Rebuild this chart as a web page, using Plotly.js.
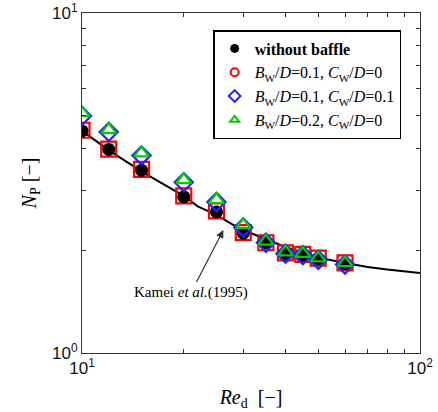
<!DOCTYPE html>
<html>
<head>
<meta charset="utf-8">
<script src="https://cdn.plot.ly/plotly-3.0.1.min.js"></script>
<style>html,body{margin:0;padding:0;background:#fff;}#chart{width:438px;height:412px;}</style>
</head>
<body>
<div id="chart"></div>
<script>
// Reynolds numbers of the measurements
const reExp = [10, 12, 15, 20, 25, 30, 35, 40, 45, 50, 60];
// Power number, without baffle
const npNoBaffle = [4.50, 3.97, 3.45, 2.88, 2.60, 2.25, 2.11, 1.96, 1.94, 1.89, 1.83];
// Bw/D=0.1, Cw/D=0
const npB01C0 = [4.52, 3.98, 3.47, 2.90, 2.62, 2.26, 2.11, 1.97, 1.95, 1.90, 1.84];
// Bw/D=0.1, Cw/D=0.1
const npB01C01 = [4.98, 4.47, 3.81, 3.18, 2.78, 2.34, 2.11, 1.96, 1.94, 1.88, 1.82];
// Bw/D=0.2, Cw/D=0
const npB02C0 = [5.08, 4.53, 3.87, 3.23, 2.82, 2.38, 2.13, 1.98, 1.96, 1.90, 1.84];
// Kamei et al. (1995) correlation curve
const reKamei = [10, 11, 12, 13, 15, 17, 20, 22, 25, 28, 30, 35, 40, 45, 50, 60, 70, 80, 90, 100];
const npKamei = [4.50, 4.20, 3.95, 3.75, 3.42, 3.18, 2.90, 2.70, 2.55, 2.38, 2.30, 2.16, 2.05, 1.97, 1.91, 1.84, 1.79, 1.76, 1.74, 1.72];

const names = [
  '<b>without baffle</b>',
  '<i>B</i><sub>W</sub>/<i>D</i>=0.1, <i>C</i><sub>W</sub>/<i>D</i>=0',
  '<i>B</i><sub>W</sub>/<i>D</i>=0.1, <i>C</i><sub>W</sub>/<i>D</i>=0.1',
  '<i>B</i><sub>W</sub>/<i>D</i>=0.2, <i>C</i><sub>W</sub>/<i>D</i>=0'
];

const SERIF = 'Liberation Serif';
const SANS = 'Liberation Sans';

const traces = [
  {x: reKamei, y: npKamei, mode: 'lines', line: {color: '#000', width: 2}, showlegend: false, hoverinfo: 'skip'},
  {x: reExp, y: npB01C0, mode: 'markers', showlegend: false,
   marker: {symbol: 'square-open', size: 15, color: '#ff0000', line: {width: 2.2, color: '#ff0000'}}},
  {x: reExp, y: npNoBaffle, mode: 'markers', showlegend: false,
   marker: {symbol: 'circle', size: 13, color: '#000'}},
  {x: reExp, y: npB01C01, mode: 'markers', showlegend: false,
   marker: {symbol: 'diamond-open', size: 14, color: '#2222ff', line: {width: 2.2, color: '#2222ff'}}},
  {x: reExp, y: npB02C0, mode: 'markers', showlegend: false,
   marker: {symbol: 'triangle-up-open', size: 13, color: '#00cc00', line: {width: 2.2, color: '#00cc00'}}},
  // legend entries (small symbols as in the reference legend)
  {x: [null], y: [null], mode: 'markers', name: names[0],
   marker: {symbol: 'circle', size: 9, color: '#000'}},
  {x: [null], y: [null], mode: 'markers', name: names[1],
   marker: {symbol: 'circle-open', size: 8, color: '#ff0000', line: {width: 2, color: '#ff0000'}}},
  {x: [null], y: [null], mode: 'markers', name: names[2],
   marker: {symbol: 'diamond-open', size: 9, color: '#2222ff', line: {width: 2, color: '#2222ff'}}},
  {x: [null], y: [null], mode: 'markers', name: names[3],
   marker: {symbol: 'triangle-up-open', size: 8, color: '#00cc00', line: {width: 2, color: '#00cc00'}}}
];

const yTickVals = [1,2,3,4,5,6,7,8,9,10];
const yTickText = ['10<sup>0</sup>','','','','','','','','','10<sup>1</sup>'];
const xTickVals = [10,20,30,40,50,60,70,80,90,100];
const xTickText = ['10<sup>1</sup>','','','','','','','','','10<sup>2</sup>'];

const layout = {
  width: 438, height: 412,
  margin: {l: 82, r: 18, t: 13, b: 59},
  paper_bgcolor: '#fff', plot_bgcolor: '#fff',
  showlegend: true,
  font: {family: SERIF, color: '#000', size: 14},
  xaxis: {
    type: 'log', range: [1, 2], tickvals: xTickVals, ticktext: xTickText,
    ticks: 'inside', ticklen: 4, tickcolor: '#333', mirror: 'ticks',
    showline: true, linecolor: '#333', linewidth: 1, showgrid: false, zeroline: false,
    tickfont: {family: SANS, size: 17, color: '#111'},
    title: {text: '<i>Re</i><sub>d</sub>  [\u2212]', font: {family: SERIF, size: 20}, standoff: 12}
  },
  yaxis: {
    type: 'log', range: [0, 1], tickvals: yTickVals, ticktext: yTickText,
    ticks: 'inside', ticklen: 4, tickcolor: '#333', mirror: 'ticks',
    showline: true, linecolor: '#333', linewidth: 1, showgrid: false, zeroline: false,
    tickfont: {family: SANS, size: 17, color: '#111'},
    title: {text: '<i>N</i><sub>P</sub> [\u2212]', font: {family: SERIF, size: 20}, standoff: 10}
  },
  legend: {
    x: 0.388, y: 0.95, xanchor: 'left', yanchor: 'top',
    bgcolor: '#fff', bordercolor: '#000', borderwidth: 1.5,
    font: {family: SERIF, size: 16, color: '#000'},
    itemwidth: 30
  },
  annotations: [{
    x: Math.log10(26.2), y: Math.log10(2.30), xref: 'x', yref: 'y',
    text: 'Kamei <i>et al.</i>(1995)', showarrow: true,
    arrowhead: 2, arrowsize: 1.3, arrowwidth: 1.2, arrowcolor: '#333',
    ax: -32, ay: 62, font: {family: SERIF, size: 15, color: '#000'}
  }]
};

Plotly.newPlot('chart', traces, layout, {displayModeBar: false, staticPlot: true});
</script>
</body>
</html>
